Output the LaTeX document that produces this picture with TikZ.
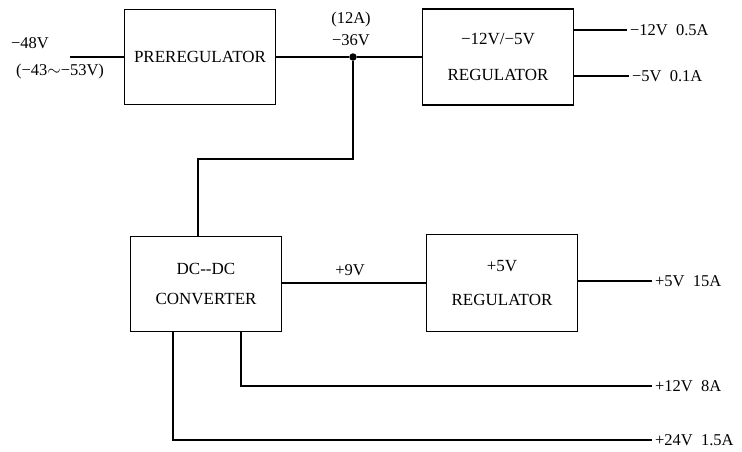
\documentclass[tikz,border=0pt]{standalone}
\usepackage{fontspec}
\setmainfont{Liberation Serif}
\usetikzlibrary{positioning}

\begin{document}
\begin{tikzpicture}[x=1pt, y=-1pt, line width=1.1pt,
    block/.style={draw, rectangle, minimum width=151pt, minimum height=95pt, align=center, font=\fontsize{17}{20}\selectfont},
    lbl/.style={inner sep=2.5pt, font=\fontsize{16.5}{19}\selectfont}]
\useasboundingbox (0,0) rectangle (742,451);

            % Input stage
            \node[block] (prereg) at (200,57) {PREREGULATOR};
            \coordinate[left=54pt of prereg.west] (inp);
            \draw (inp) -- (prereg.west);
            \node[lbl] (vin) at (30,43) {−48V};
            \node[lbl] (vrange) at (60,72) {(−43$\sim$−53V)};

            % Negative regulator
            \node[block, minimum height=96pt] (negreg) at (498,57) {−12V/−5V \\[16pt] REGULATOR};
            \node[circle, fill, inner sep=0pt, minimum size=7.5pt] (tap) at (353,57) {};
            \draw (prereg.east) -- (tap) -- (negreg.west);
            \node[lbl] (iamp) at (351,20) {(12A)};
            \node[lbl] (vbus) at (351,40) {−36V};

            % Negative outputs
            \node[lbl, anchor=west] (om12) at (627,30) {−12V\enspace 0.5A};
            \node[lbl, anchor=west] (om5) at (629,76) {−5V\enspace 0.1A};
            \draw (negreg.east |- om12) -- (om12.west);
            \draw (negreg.east |- om5) -- (om5.west);

            % DC-DC converter
            \node[block] (dcdc) at (206,284) {DC-{}-DC \\[10pt] CONVERTER};
            \coordinate (bend) at (353,159);
            \draw (tap) -- (bend) -| ([xshift=-8pt]dcdc.north);

            % Positive regulator
            \node[block, minimum height=97pt] (posreg) at (502,283) {+5V \\[14pt] REGULATOR};
            \draw (dcdc.east |- posreg) -- (posreg.west);
            \node[lbl] (v9) at (350,270) {+9V};

            % Positive outputs
            \node[lbl, anchor=west] (o5) at (652,281) {+5V\enspace 15A};
            \node[lbl, anchor=west] (o12) at (652,386) {+12V\enspace 8A};
            \node[lbl, anchor=west] (o24) at (652,440) {+24V\enspace 1.5A};
            \draw (posreg.east |- o5) -- (o5.west);
            \draw ([xshift=35pt]dcdc.south) |- (o12.west);
            \draw ([xshift=-33pt]dcdc.south) |- (o24.west);
        \end{tikzpicture}
\end{document}
